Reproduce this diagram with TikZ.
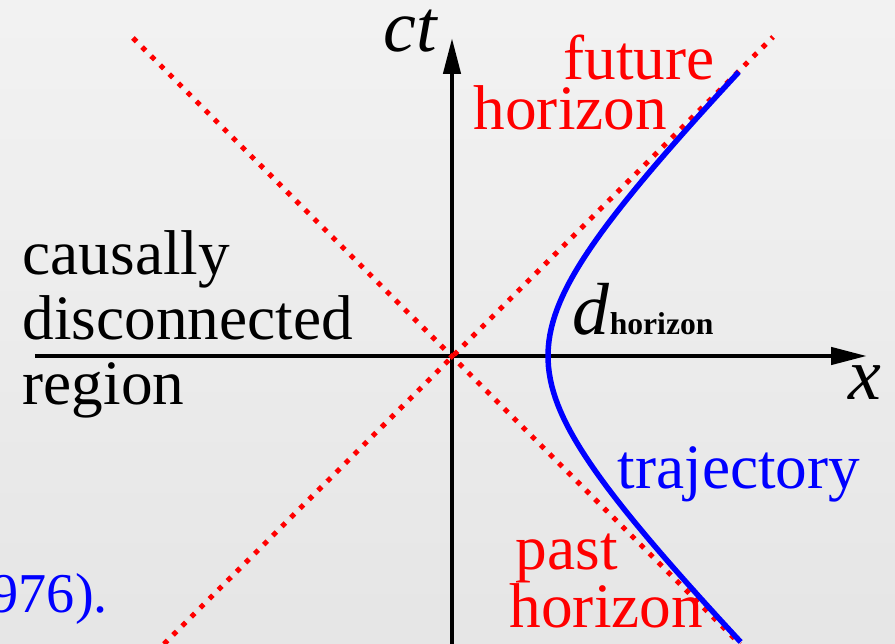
\documentclass[tikz,border=0pt]{standalone}
\usepackage{fontspec}
\setmainfont{Liberation Serif}
\usetikzlibrary{arrows.meta}

\begin{document}
\begin{tikzpicture}[line join=round,
    axis/.style={line width=0.045cm, -{Triangle[length=0.36cm,width=0.17cm]}},
    horizon/.style={red, line width=0.05cm, dash pattern=on 0.05cm off 0.078cm},
    worldline/.style={blue, line width=0.055cm},
    lbl/.style={inner sep=0pt, anchor=base west, font=\fontsize{18}{18.5}\selectfont},
    sym/.style={inner sep=0pt, anchor=base west, font=\fontsize{21}{23}\selectfont\itshape}]

    % geometry (1 unit = 100 px of the picture)
    \def\a{1.16}     % trajectory half-width parameter
    \def\s{-0.2}     % shift of the trajectory
    
    % frame and background
    \coordinate (SW) at (-4.52,-2.88);
    \coordinate (NE) at (4.43,3.56);
    \shade[top color=gray!10, bottom color=gray!20] (SW) rectangle (NE);
    \useasboundingbox (SW) rectangle (NE);
    
    % key points
    \coordinate (O) at (0,0);
    \coordinate (xL) at (-4.17,0);
    \coordinate (xR) at (4.15,0);
    \coordinate (tB) at (0,-2.88);
    \coordinate (tT) at (0,3.18);
    
    % axes
    \draw[axis] (xL) -- (xR);
    \draw[axis] (tB) -- (tT);
    
    % horizons (light cone through the origin)
    \coordinate (futA) at (3.21,3.19);
    \coordinate (futB) at (-2.88,-2.88);
    \coordinate (pastA) at (-3.19,3.18);
    \coordinate (pastB) at (2.88,-2.88);
    \draw[horizon] (futB) -- (futA);
    \draw[horizon] (pastA) -- (pastB);
    
    % hyperbolic trajectory
    \draw[worldline] plot[domain=-2.86:2.84, samples=90, variable=\t]
        ({\s+sqrt(\t*\t+\a*\a)}, \t);
    
    % labels
    \node[sym] (ct) at (-0.69,3.04) {ct};
    \node[sym] (xlab) at (3.96,-0.44) {x};
    \node[lbl, red] (future) at (1.11,2.76) {future};
    \node[lbl, red] (futhor) at (0.21,2.26) {horizon};
    \node[lbl, align=left] (region) at (-4.30,-0.49) {causally\\disconnected\\region};
    \node[sym] (dhor) at (1.20,0.21) {d\textup{\textbf{\fontsize{9}{11}\selectfont horizon}}};
    \node[lbl, blue] (traj) at (1.65,-1.33) {trajectory};
    \node[lbl, red] (past) at (0.63,-2.14) {past};
    \node[lbl, red] (pasthor) at (0.57,-2.72) {horizon};
    \node[lbl, blue, font=\fontsize{16}{18}\selectfont] (cite) at (-4.62,-2.56) {976).};
    
\end{tikzpicture}
\end{document}
